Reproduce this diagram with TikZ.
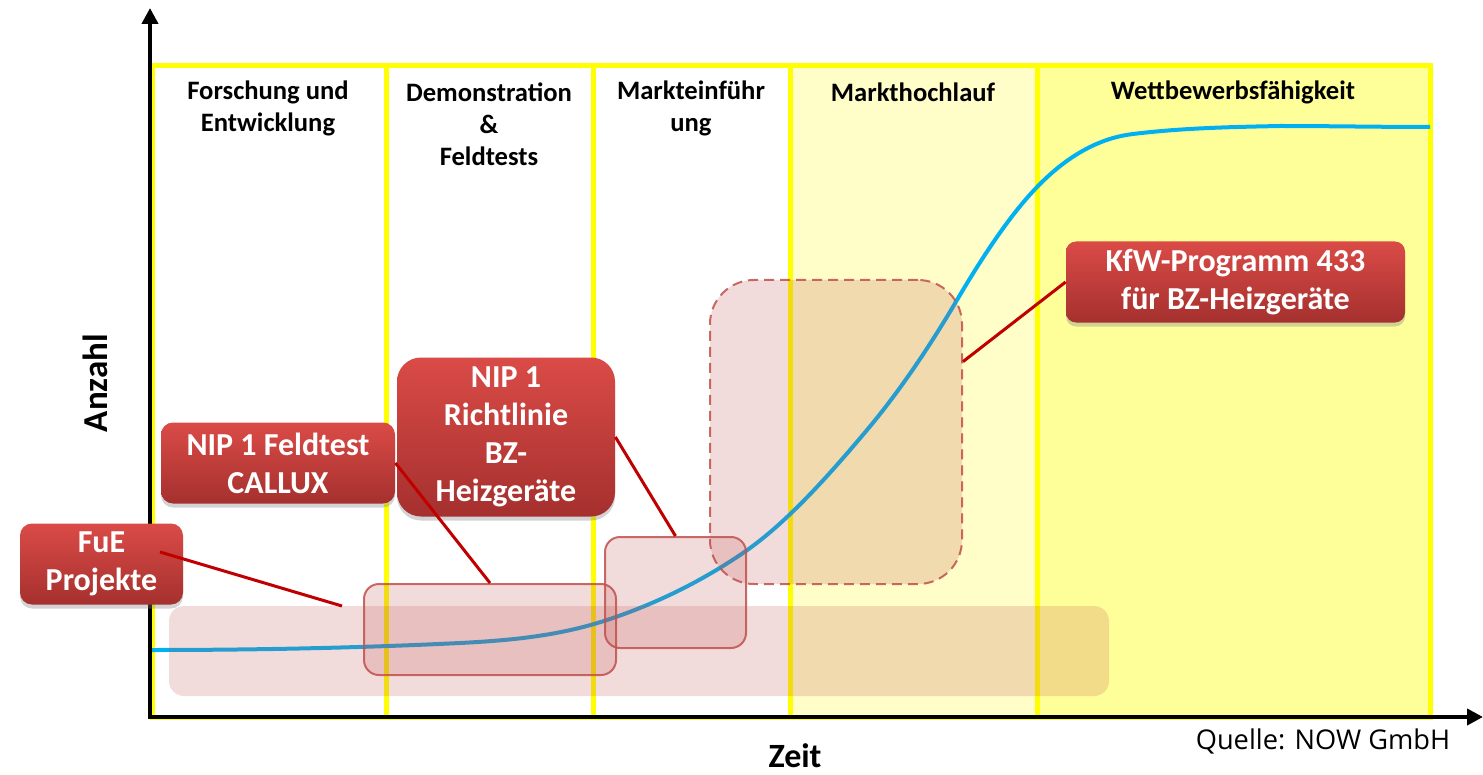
\documentclass[tikz,border=0pt]{standalone}
\usepackage{fontspec}
\setmainfont{Carlito}
\newfontfamily\srcfont{Open Sans}
\usetikzlibrary{arrows.meta,shadows,calc}
\definecolor{phaseyellow}{HTML}{FFFF00}
\definecolor{lightfill}{HTML}{FFFDC8}
\definecolor{midfill}{HTML}{FFFF99}
\definecolor{accent}{HTML}{C0504D}
\definecolor{curveblue}{HTML}{00B0F0}
\definecolor{linkred}{HTML}{C00000}
\definecolor{redtop}{HTML}{DA4B47}
\definecolor{redbot}{HTML}{A5302E}
\begin{document}
\begin{tikzpicture}[x=0.5pt,y=-0.5pt,
  phase/.style={draw=phaseyellow,line width=2.5pt},
  head/.style={font=\bfseries\fontsize{13.3}{16}\selectfont,align=center,inner sep=0pt},
  tag/.style={rounded corners=6pt,top color=redtop,bottom color=redbot,
    drop shadow={shadow xshift=0pt,shadow yshift=-2pt,opacity=0.35},
    text=white,font=\bfseries\fontsize{16}{19}\selectfont,align=center,inner sep=0pt,
    minimum height=40.5pt},
  zone/.style={rounded corners=7.5pt,fill=accent,fill opacity=0.2,draw=accent,
    draw opacity=0.85,line width=1pt,inner sep=0pt},
  link/.style={draw=linkred,line width=1.5pt},
  axis/.style={line width=2pt,-{Triangle[length=8pt,width=8pt]}}
]
\useasboundingbox (0,0) rectangle (1483,775);

% phase columns
\fill[lightfill] (790,66) rectangle (1037,717);
\fill[midfill] (1037,66) rectangle (1430,717);
\draw[phase] (152,66) rectangle (386,717);
\draw[phase] (386,66) rectangle (593,717);
\draw[phase] (593,66) rectangle (790,717);
\draw[phase] (790,66) rectangle (1037,717);
\draw[phase] (1037,66) rectangle (1430,717);

\node[head] (h1) at (268,108) {Forschung und\\Entwicklung};
\node[head] (h2) at (489,124) {Demonstration\\\&\\Feldtests};
\node[head] (h3) at (691,108) {Markteinführ\\ung};
\node[head] (h4) at (913,92) {Markthochlauf};
\node[head] (h5) at (1233,92) {Wettbewerbsfähigkeit};

% growth curve (S-shaped market uptake)
\draw[curveblue,line width=2pt] (150,650)
  .. controls (253,650) and (357,648) .. (460,643)
  .. controls (509,640.5) and (558,636.2) .. (607,620)
  .. controls (652.3,605) and (697.7,583.8) .. (743,553)
  .. controls (784.3,524.9) and (825.7,479.2) .. (867,430)
  .. controls (897,394.3) and (927,351) .. (957,300)
  .. controls (984.7,253) and (1012.3,211.7) .. (1040,184)
  .. controls (1071,153) and (1102,137.7) .. (1133,134)
  .. controls (1182,128) and (1231,127) .. (1280,126)
  .. controls (1330,126) and (1380,127) .. (1430,127);

% funding zones
\node[zone,draw=none,minimum width=470pt,minimum height=45pt] (bar) at (639,651) {};
\node[zone,minimum width=126pt,minimum height=45.5pt] (zoneA) at (490,629.5) {};
\node[zone,minimum width=70.5pt,minimum height=55.5pt] (zoneB) at (675.5,592.5) {};
\node[zone,dashed,dash pattern=on 5pt off 3pt,rounded corners=22pt,
  minimum width=126pt,minimum height=152pt] (zoneC) at (836,432) {};

% axes
\coordinate (origin) at (150,717);
\coordinate (ytip) at (150,8);
\coordinate (xtip) at (1483,717);
\draw[axis] ($(origin)+(0,2)$) -- (ytip);
\draw[axis] ($(origin)+(-2,0)$) -- (xtip);

% programme labels
\node[tag,minimum width=81.5pt] (fue) at (101.5,564) {FuE\\Projekte};
\node[tag,minimum width=117pt] (feld) at (278,463) {NIP 1 Feldtest\\CALLUX};
\node[tag,minimum width=109pt,minimum height=79.5pt,rounded corners=12pt] (richt) at (506,437)
  {NIP 1\\Richtlinie\\BZ-\\Heizgeräte};
\node[tag,minimum width=169.5pt,rounded corners=5pt] (kfw) at (1235.5,282)
  {KfW-Programm 433\\für BZ-Heizgeräte};

% connectors
\coordinate (fueStart) at (160,552);
\coordinate (fueEnd) at (342,606);
\draw[link] (fueStart) -- (fueEnd);
\draw[link] (feld.east) -- (zoneA.north);
\draw[link] (richt.east) -- (zoneB.north);
\draw[link] (kfw.west) -- ($(zoneC.north east)!0.27!(zoneC.south east)$);

\node[font=\bfseries\fontsize{17.5}{20}\selectfont,rotate=90] (ylab) at (95,383) {Anzahl};
\node[font=\bfseries\fontsize{17}{20}\selectfont] (xlab) at (795,756) {Zeit};
\node[font=\srcfont\fontsize{13.6}{15}\selectfont] (src) at (1323,741) {Quelle: NOW GmbH};
\end{tikzpicture}
\end{document}
